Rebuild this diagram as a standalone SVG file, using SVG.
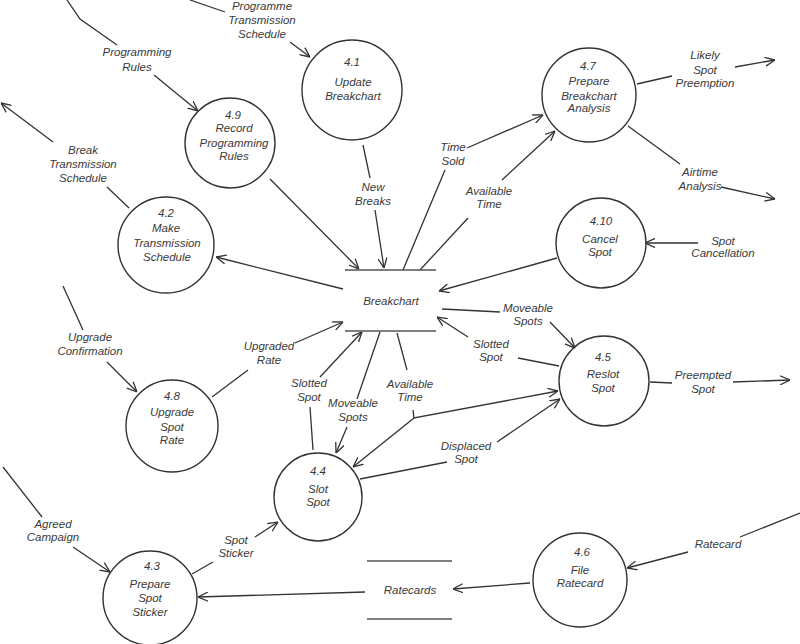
<svg xmlns="http://www.w3.org/2000/svg" width="800" height="644" viewBox="0 0 800 644">
<style>
  .bg{fill:#ffffff}
  .proc circle{fill:none;stroke:#333;stroke-width:1.4}
  .store line{stroke:#555;stroke-width:1.6}
  text{font-family:"Liberation Sans","DejaVu Sans",sans-serif;font-style:italic;font-size:11.5px;fill:#3a3a3a;text-anchor:middle}
  .flows path{fill:none;stroke:#333;stroke-width:1.3}
  .flows path.a{marker-end:url(#arr)}
</style>
<defs>
  <marker id="arr" viewBox="0 0 10 10" refX="10" refY="5" markerWidth="10" markerHeight="10" markerUnits="userSpaceOnUse" orient="auto">
    <path d="M0,0.5 L10,5 L0,9.5" fill="none" stroke="#333" stroke-width="1.3"/>
  </marker>
</defs>
<rect class="bg" x="0" y="0" width="800" height="644"/>

<g class="flows" id="connectors">
  <path d="M190,0 L225,12"/><path class="a" d="M290,42 L310,57"/>
  <path d="M67,0 L80,19 L117,45"/><path class="a" d="M154,75 L198,111"/>
  <path d="M129,208 L107,187"/><path class="a" d="M53,142 L1,103"/>
  <path d="M363,145 L370,178"/><path class="a" d="M375,210 L384,268"/>
  <path class="a" d="M270,179 L359,269"/>
  <path class="a" d="M343,289 L216,257"/>
  <path d="M403,270 L445,170"/><path class="a" d="M467,148 L543,115"/>
  <path d="M420,270 L468,218"/><path class="a" d="M502,180 L555,131"/>
  <path d="M637,84 L672,76"/><path class="a" d="M735,67 L775,60"/>
  <path d="M628,126 L680,164"/><path class="a" d="M721,187 L775,199"/>
  <path class="a" d="M698,243 L645,243"/>
  <path class="a" d="M557,258 L439,291"/>
  <path d="M442,309 L500,312"/><path class="a" d="M550,322 L575,348"/>
  <path d="M559,366 L518,358"/><path class="a" d="M468,337 L437,317"/>
  <path d="M650,382 L672,383"/><path class="a" d="M733,382 L790,380"/>
  <path d="M63,286 L83,330"/><path class="a" d="M107,362 L137,392"/>
  <path d="M212,397 L248,370"/><path class="a" d="M295,343 L343,322"/>
  <path d="M313,450 L310,407"/><path class="a" d="M320,377 L362,332"/>
  <path d="M380,332 L357,399"/><path class="a" d="M347,427 L336,453"/>
  <path d="M397,333 L407,370"/><path class="a" d="M413,410 L414,418 L558,391"/><path class="a" d="M414,418 L353,467"/>
  <path d="M360,479 L447,462"/><path class="a" d="M497,442 L560,399"/>
  <path d="M3,467 L42,517"/><path class="a" d="M73,547 L110,572"/>
  <path d="M192,574 L213,562"/><path class="a" d="M255,537 L278,522"/>
  <path class="a" d="M365,592 L198,597"/>
  <path class="a" d="M530,583 L453,589"/>
  <path d="M800,513 L740,537"/><path class="a" d="M688,552 L627,568"/>
</g>

<g id="flow-labels">
  <text x="262" y="10">Programme<tspan x="262" y="24">Transmission</tspan><tspan x="262" y="38">Schedule</tspan></text>
  <text x="137" y="56">Programming<tspan x="137" y="71">Rules</tspan></text>
  <text x="83" y="154">Break<tspan x="83" y="168">Transmission</tspan><tspan x="83" y="182">Schedule</tspan></text>
  <text x="373" y="191">New<tspan x="373" y="205">Breaks</tspan></text>
  <text x="453" y="151">Time<tspan x="453" y="165">Sold</tspan></text>
  <text x="489" y="195">Available<tspan x="489" y="208">Time</tspan></text>
  <text x="705" y="59">Likely<tspan x="705" y="74">Spot</tspan><tspan x="705" y="87">Preemption</tspan></text>
  <text x="700" y="176">Airtime<tspan x="700" y="190">Analysis</tspan></text>
  <text x="723" y="245">Spot<tspan x="723" y="257">Cancellation</tspan></text>
  <text x="528" y="312">Moveable<tspan x="528" y="325">Spots</tspan></text>
  <text x="491" y="348">Slotted<tspan x="491" y="361">Spot</tspan></text>
  <text x="703" y="379">Preempted<tspan x="703" y="393">Spot</tspan></text>
  <text x="90" y="341">Upgrade<tspan x="90" y="355">Confirmation</tspan></text>
  <text x="269" y="350">Upgraded<tspan x="269" y="364">Rate</tspan></text>
  <text x="309" y="387">Slotted<tspan x="309" y="401">Spot</tspan></text>
  <text x="353" y="407">Moveable<tspan x="353" y="421">Spots</tspan></text>
  <text x="410" y="388">Available<tspan x="410" y="401">Time</tspan></text>
  <text x="466" y="450">Displaced<tspan x="466" y="463">Spot</tspan></text>
  <text x="53" y="528">Agreed<tspan x="53" y="541">Campaign</tspan></text>
  <text x="236" y="544">Spot<tspan x="236" y="557">Sticker</tspan></text>
  <text x="718" y="548">Ratecard</text>
</g>

<g id="store-breakchart" class="store">
  <line x1="345" y1="270" x2="436" y2="270"/>
  <line x1="345" y1="331" x2="436" y2="331"/>
  <text x="391" y="305">Breakchart</text>
</g>
<g id="store-ratecards" class="store">
  <line x1="367" y1="561" x2="452" y2="561"/>
  <line x1="367" y1="619" x2="452" y2="619"/>
  <text x="410" y="594">Ratecards</text>
</g>

<g id="p4-1" class="proc"><circle cx="352" cy="90" r="50"/>
  <text x="352" y="66">4.1</text><text x="353" y="86">Update</text><text x="353" y="100">Breakchart</text></g>
<g id="p4-9" class="proc"><circle cx="230" cy="143" r="45"/>
  <text x="233" y="119">4.9</text><text x="234" y="132">Record</text><text x="234" y="147">Programming</text><text x="234" y="160">Rules</text></g>
<g id="p4-7" class="proc"><circle cx="589" cy="95" r="47"/>
  <text x="588" y="70">4.7</text><text x="589" y="85">Prepare</text><text x="589" y="100">Breakchart</text><text x="589" y="112">Analysis</text></g>
<g id="p4-2" class="proc"><circle cx="166" cy="245" r="48"/>
  <text x="166" y="217">4.2</text><text x="166" y="232">Make</text><text x="167" y="247">Transmission</text><text x="167" y="261">Schedule</text></g>
<g id="p4-10" class="proc"><circle cx="601" cy="243" r="45"/>
  <text x="601" y="225">4.10</text><text x="600" y="243">Cancel</text><text x="600" y="256">Spot</text></g>
<g id="p4-5" class="proc"><circle cx="604" cy="381" r="45"/>
  <text x="603" y="361">4.5</text><text x="603" y="378">Reslot</text><text x="603" y="392">Spot</text></g>
<g id="p4-8" class="proc"><circle cx="172" cy="426" r="46"/>
  <text x="172" y="400">4.8</text><text x="172" y="416">Upgrade</text><text x="172" y="431">Spot</text><text x="172" y="444">Rate</text></g>
<g id="p4-4" class="proc"><circle cx="318" cy="497" r="44"/>
  <text x="318" y="475">4.4</text><text x="318" y="493">Slot</text><text x="318" y="506">Spot</text></g>
<g id="p4-3" class="proc"><circle cx="150" cy="598" r="47"/>
  <text x="152" y="570">4.3</text><text x="150" y="588">Prepare</text><text x="150" y="602">Spot</text><text x="150" y="616">Sticker</text></g>
<g id="p4-6" class="proc"><circle cx="580" cy="580" r="47"/>
  <text x="582" y="556">4.6</text><text x="580" y="574">File</text><text x="580" y="587">Ratecard</text></g>
</svg>
